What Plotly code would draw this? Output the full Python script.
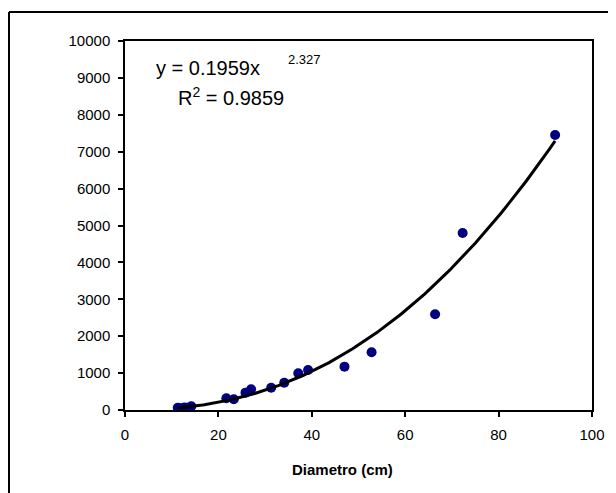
import numpy as np
import plotly.graph_objects as go

diametro = [11.3, 12.0, 12.7, 13.4, 14.2, 21.7, 23.3, 25.8, 27.0, 31.3, 34.1, 37.1, 39.2, 47.0, 52.8, 66.4, 72.3, 92.1]
valores = [60, 50, 70, 60, 100, 317, 290, 470, 560, 605, 740, 995, 1084, 1175, 1563, 2593, 4797, 7452]

coef_a = 0.1959
coef_b = 2.327

x_ticks = [0, 20, 40, 60, 80, 100]
y_ticks = [0, 1000, 2000, 3000, 4000, 5000, 6000, 7000, 8000, 9000, 10000]
y_labels = [str(v) for v in y_ticks]
x_title = "Diametro (cm)"

xt = np.linspace(min(diametro), max(diametro), 200)
yt = coef_a * xt ** coef_b

fig = go.Figure()
fig.add_trace(go.Scatter(x=diametro, y=valores, mode="markers",
                         marker=dict(color="#000080", size=10, line=dict(width=0)),
                         showlegend=False))
fig.add_trace(go.Scatter(x=xt, y=yt, mode="lines",
                         line=dict(color="black", width=3), showlegend=False))

font = "Liberation Sans, Arial, sans-serif"
fig.update_layout(
    width=616, height=493,
    margin=dict(l=117, r=32, t=33, b=91),
    paper_bgcolor="white", plot_bgcolor="white",
    font=dict(family=font, color="black", size=15),
    xaxis=dict(range=[0, 100], tickvals=x_ticks, ticks="outside", ticklen=5,
               tickcolor="black", tickwidth=1.5, showline=True, linecolor="black",
               linewidth=1.5, mirror=True, showgrid=False, zeroline=False,
               tickfont=dict(size=15), ticklabelstandoff=5),
    yaxis=dict(range=[0, 10000], tickvals=y_ticks, ticktext=y_labels, ticks="outside", ticklen=5,
               tickcolor="black", tickwidth=1.5, showline=True, linecolor="black",
               linewidth=1.5, mirror=True, showgrid=False, zeroline=False,
               tickfont=dict(size=15), ticklabelstandoff=5),
    shapes=[
        dict(type="line", xref="paper", yref="paper", x0=-0.2484, x1=1.1,
             y0=1.0786, y1=1.0786, line=dict(color="black", width=2)),
        dict(type="line", xref="paper", yref="paper", x0=-0.2484, x1=-0.2484,
             y0=1.0786, y1=-0.3, line=dict(color="black", width=2)),
    ],
    annotations=[
        dict(x=(207 - 124) / 4.67, y=(409 - 67) / 0.0369, text="y = 0.1959x",
             showarrow=False, font=dict(size=20), xanchor="center", yanchor="middle"),
        dict(x=(303 - 124) / 4.67, y=(409 - 58) / 0.0369, text="2.327",
             showarrow=False, font=dict(size=13), xanchor="center", yanchor="middle"),
        dict(x=(230 - 124) / 4.67, y=(409 - 95) / 0.0369, text="R<sup>2</sup> = 0.9859",
             showarrow=False, font=dict(size=20), xanchor="center", yanchor="middle"),
        dict(x=(341 - 124) / 4.67, xref="x", y=(409 - 468) / 369, yref="paper",
             text="<b>" + x_title + "</b>", showarrow=False, font=dict(size=15),
             xanchor="center", yanchor="middle"),
    ],
)

fig.write_html("out.html")
